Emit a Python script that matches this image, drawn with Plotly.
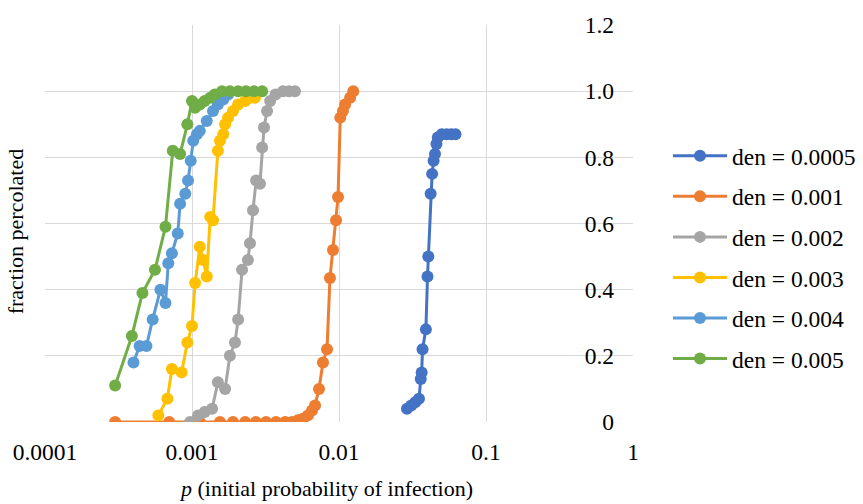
import plotly.graph_objects as go

# Percolation curves: fraction of runs percolated vs initial infection probability p
labels = ["den = 0.0005", "den = 0.001", "den = 0.002", "den = 0.003", "den = 0.004", "den = 0.005"]
colors = ["#4472C4", "#ED7D31", "#A5A5A5", "#FFC000", "#5B9BD5", "#70AD47"]

p_0005 = [0.029, 0.031, 0.033, 0.035, 0.036, 0.0365, 0.037, 0.039, 0.040, 0.0405,
          0.042, 0.043, 0.044, 0.045, 0.046, 0.047, 0.050, 0.054, 0.058, 0.062]
f_0005 = [0.04, 0.05, 0.06, 0.07, 0.13, 0.15, 0.22, 0.28, 0.44, 0.50,
          0.69, 0.75, 0.79, 0.81, 0.84, 0.86, 0.87, 0.87, 0.87, 0.87]

p_001 = [0.0003, 0.0007, 0.00113, 0.00155, 0.0019, 0.0023, 0.00272, 0.00319, 0.00373,
         0.0043, 0.00479, 0.00526, 0.00569, 0.00615, 0.00655, 0.00687, 0.00731, 0.00778,
         0.00829, 0.00868, 0.0091, 0.00955, 0.00985, 0.0102, 0.01064, 0.011, 0.0119, 0.0125]
f_001 = [0.0, 0.0, 0.0, 0.0, 0.0, 0.0, 0.0, 0.0, 0.0,
         0.0, 0.0, 0.005, 0.01, 0.02, 0.035, 0.05, 0.10, 0.18,
         0.22, 0.435, 0.52, 0.61, 0.68, 0.92, 0.94, 0.96, 0.98, 1.0]

p_002 = [0.00097, 0.0011, 0.00122, 0.00137, 0.0015, 0.00168, 0.00181, 0.00196, 0.00206,
         0.00219, 0.0024, 0.00248, 0.0026, 0.00273, 0.0029, 0.003, 0.00309, 0.00324,
         0.0034, 0.0037, 0.00416, 0.00457, 0.00502]
f_002 = [0.0, 0.02, 0.03, 0.04, 0.12, 0.10, 0.20, 0.24, 0.31,
         0.46, 0.49, 0.54, 0.64, 0.73, 0.72, 0.83, 0.89, 0.94,
         0.97, 0.99, 1.0, 1.0, 1.0]

p_003 = [0.00059, 0.00068, 0.00073, 0.00085, 0.00093, 0.001, 0.00105, 0.00113, 0.00119,
         0.00126, 0.00133, 0.00139, 0.0015, 0.00155, 0.00163, 0.00168, 0.00176, 0.0019,
         0.00206, 0.0023, 0.00248, 0.00268]
f_003 = [0.02, 0.07, 0.16, 0.15, 0.24, 0.29, 0.42, 0.53, 0.49,
         0.44, 0.62, 0.61, 0.82, 0.85, 0.87, 0.90, 0.92, 0.94,
         0.96, 0.97, 0.98, 0.98]

p_004 = [0.0004, 0.00044, 0.00049, 0.00054, 0.00061, 0.00066, 0.00069, 0.00073, 0.0008,
         0.00083, 0.0009, 0.00094, 0.00098, 0.00102, 0.00108, 0.00113, 0.00126, 0.00139,
         0.0015, 0.00163, 0.00176]
f_004 = [0.18, 0.23, 0.23, 0.31, 0.40, 0.36, 0.48, 0.51, 0.57,
         0.66, 0.69, 0.73, 0.79, 0.85, 0.87, 0.88, 0.91, 0.94,
         0.96, 0.975, 0.99]

p_005 = [0.0003, 0.00039, 0.00046, 0.00056, 0.00066, 0.00074, 0.00083, 0.00093, 0.001,
         0.00105, 0.00113, 0.00122, 0.00133, 0.00143, 0.0016, 0.00181, 0.00206, 0.00233,
         0.00264, 0.003]
f_005 = [0.11, 0.26, 0.39, 0.46, 0.59, 0.82, 0.81, 0.90, 0.97,
         0.95, 0.96, 0.97, 0.98, 0.99, 1.0, 1.0, 1.0, 1.0,
         1.0, 1.0]

xs = [p_0005, p_001, p_002, p_003, p_004, p_005]
ys = [f_0005, f_001, f_002, f_003, f_004, f_005]

x_tickvals = [0.0001, 0.001, 0.01, 0.1, 1]
x_ticktext = ["0.0001", "0.001", "0.01", "0.1", "1"]
y_tickvals = [0, 0.2, 0.4, 0.6, 0.8, 1.0, 1.2]
y_ticktext = ["0", "0.2", "0.4", "0.6", "0.8", "1.0", "1.2"]

FONT = "Times New Roman, Liberation Serif, DejaVu Serif, serif"
GRID = "#D9D9D9"
TICK_SIZE = 23.5

fig = go.Figure()
for lab, col, x, y in zip(labels, colors, xs, ys):
    fig.add_trace(go.Scatter(
        x=x, y=y, name=lab, mode="lines+markers",
        legendgroup=lab,
        line=dict(color=col, width=3),
        marker=dict(color=col, size=12, symbol="circle"),
    ))

fig.update_layout(
    width=863, height=504,
    margin=dict(l=45, r=230, t=16, b=82),
    paper_bgcolor="white", plot_bgcolor="white",
    font=dict(family=FONT, size=22, color="black"),
    showlegend=True,
    legend=dict(
        xref="container", yref="container",
        x=668 / 863, y=1 - 134 / 504, xanchor="left", yanchor="top",
        font=dict(family=FONT, size=TICK_SIZE, color="black"),
        itemwidth=54, tracegroupgap=7,
        bgcolor="rgba(0,0,0,0)",
    ),
    xaxis=dict(
        type="log", range=[-4, 0],
        tickvals=x_tickvals, ticktext=x_ticktext,
        showgrid=True, gridcolor=GRID, gridwidth=1,
        showline=False, zeroline=False, ticks="",
        ticklabelstandoff=13,
        tickfont=dict(family=FONT, size=TICK_SIZE, color="black"),
    ),
    yaxis=dict(
        range=[0, 1.2], side="right",
        tickvals=y_tickvals, ticktext=y_ticktext,
        ticklabelposition="inside", ticklabeloverflow="allow",
        ticklabelstandoff=16,
        showgrid=True, gridcolor=GRID, gridwidth=1,
        showline=False, zeroline=False, ticks="",
        tickfont=dict(family=FONT, size=TICK_SIZE, color="black"),
    ),
    annotations=[
        dict(text="<i>p</i> (initial probability of infection)",
             xref="paper", yref="paper", x=(326 - 45) / 588, y=-(490 - 422) / 406,
             xanchor="center", yanchor="middle", showarrow=False,
             font=dict(family=FONT, size=22, color="black")),
        dict(text="fraction percolated", textangle=-90,
             xref="paper", yref="paper", x=(15 - 45) / 588, y=(422 - 227) / 406,
             xanchor="center", yanchor="middle", showarrow=False,
             font=dict(family=FONT, size=22, color="black")),
    ],
)

fig.write_html("out.html")
